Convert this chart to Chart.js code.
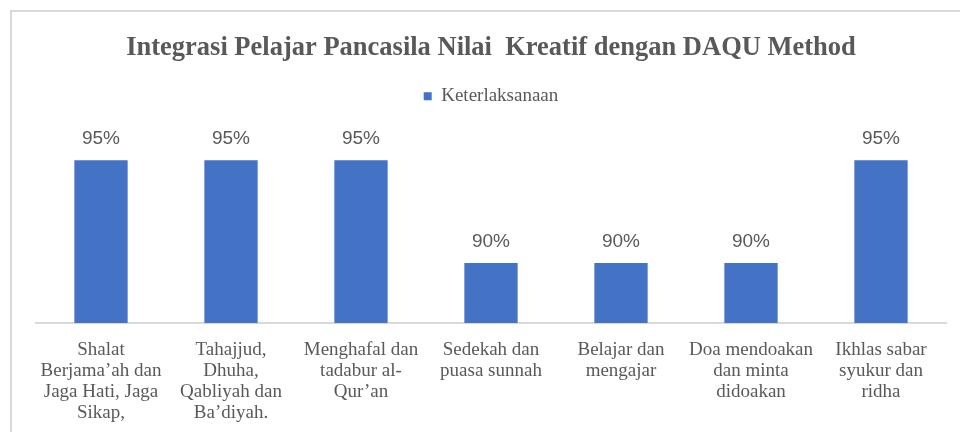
<!DOCTYPE html>
<html>
<head>
<meta charset="utf-8">
<script src="https://cdn.jsdelivr.net/npm/chart.js@4.4.1/dist/chart.umd.min.js"></script>
<style>
    html, body { margin: 0; padding: 0; background: #fff; overflow: hidden; }
    #wrap { position: relative; width: 960px; height: 432px; }
    #frame { position: absolute; left: 10px; top: 10px; width: 980px; height: 500px; border: 2px solid #d9d9d9; box-sizing: border-box; }
    #chart { position: absolute; left: 0; top: 0; }
</style>
</head>
<body>
<div id="wrap">
    <div id="frame"></div>
    <canvas id="chart" width="960" height="432"></canvas>
</div>
<script>
// Chart data
const categories = [
    ['Shalat', 'Berjama\u2019ah dan', 'Jaga Hati, Jaga', 'Sikap,'],
    ['Tahajjud,', 'Dhuha,', 'Qabliyah dan', 'Ba\u2019diyah.'],
    ['Menghafal dan', 'tadabur al-', 'Qur\u2019an'],
    ['Sedekah dan', 'puasa sunnah'],
    ['Belajar dan', 'mengajar'],
    ['Doa mendoakan', 'dan minta', 'didoakan'],
    ['Ikhlas sabar', 'syukur dan', 'ridha']
];
const keterlaksanaan = [95, 95, 95, 90, 90, 90, 95];
const seriesName = 'Keterlaksanaan';
const chartTitle = 'Integrasi Pelajar Pancasila Nilai  Kreatif dengan DAQU Method';

const textGrey = '#595959';
const serif = '"Liberation Serif", "Times New Roman", serif';

// Draw the percentage above every bar
const valueLabels = {
    id: 'valueLabels',
    afterDatasetsDraw(chart) {
        const ctx = chart.ctx;
        ctx.save();
        ctx.font = '19px "Liberation Sans", Arial, sans-serif';
        ctx.fillStyle = textGrey;
        ctx.textAlign = 'center';
        ctx.textBaseline = 'middle';
        chart.getDatasetMeta(0).data.forEach((bar, i) => {
            ctx.fillText(keterlaksanaan[i] + '%', bar.x, bar.y - 21);
        });
        ctx.restore();
    }
};

const ctx = document.getElementById('chart').getContext('2d');
const chart = new Chart(ctx, {
    type: 'bar',
    data: {
        labels: categories,
        datasets: [{
            label: seriesName,
            data: keterlaksanaan,
            backgroundColor: '#4472C4',
            borderWidth: 0,
            categoryPercentage: 1,
            barPercentage: 0.41
        }]
    },
    options: {
        responsive: false,
        animation: false,
        layout: { padding: { top: 0, left: 36, right: 14, bottom: 0 } },
        scales: {
            x: {
                grid: { display: false },
                border: { display: true, color: '#d9d9d9', width: 2 },
                ticks: {
                    color: textGrey,
                    font: { family: serif, size: 19, lineHeight: 1.105 },
                    maxRotation: 0,
                    autoSkip: false,
                    padding: 9
                },
                afterFit(scale) {
                    scale.height = 109; // room for four label lines
                }
            },
            y: {
                display: false,
                min: 87.09,
                max: 97.16
            }
        },
        plugins: {
            title: {
                display: true,
                text: chartTitle,
                color: textGrey,
                font: { family: serif, size: 26.5, weight: 'bold' },
                padding: { top: 32, bottom: 13 }
            },
            legend: {
                display: true,
                labels: {
                    color: textGrey,
                    font: { family: serif, size: 19 },
                    boxWidth: 8,
                    boxHeight: 8,
                    padding: 10
                }
            },
            tooltip: { enabled: false }
        }
    },
    plugins: [valueLabels]
});
</script>
</body>
</html>
